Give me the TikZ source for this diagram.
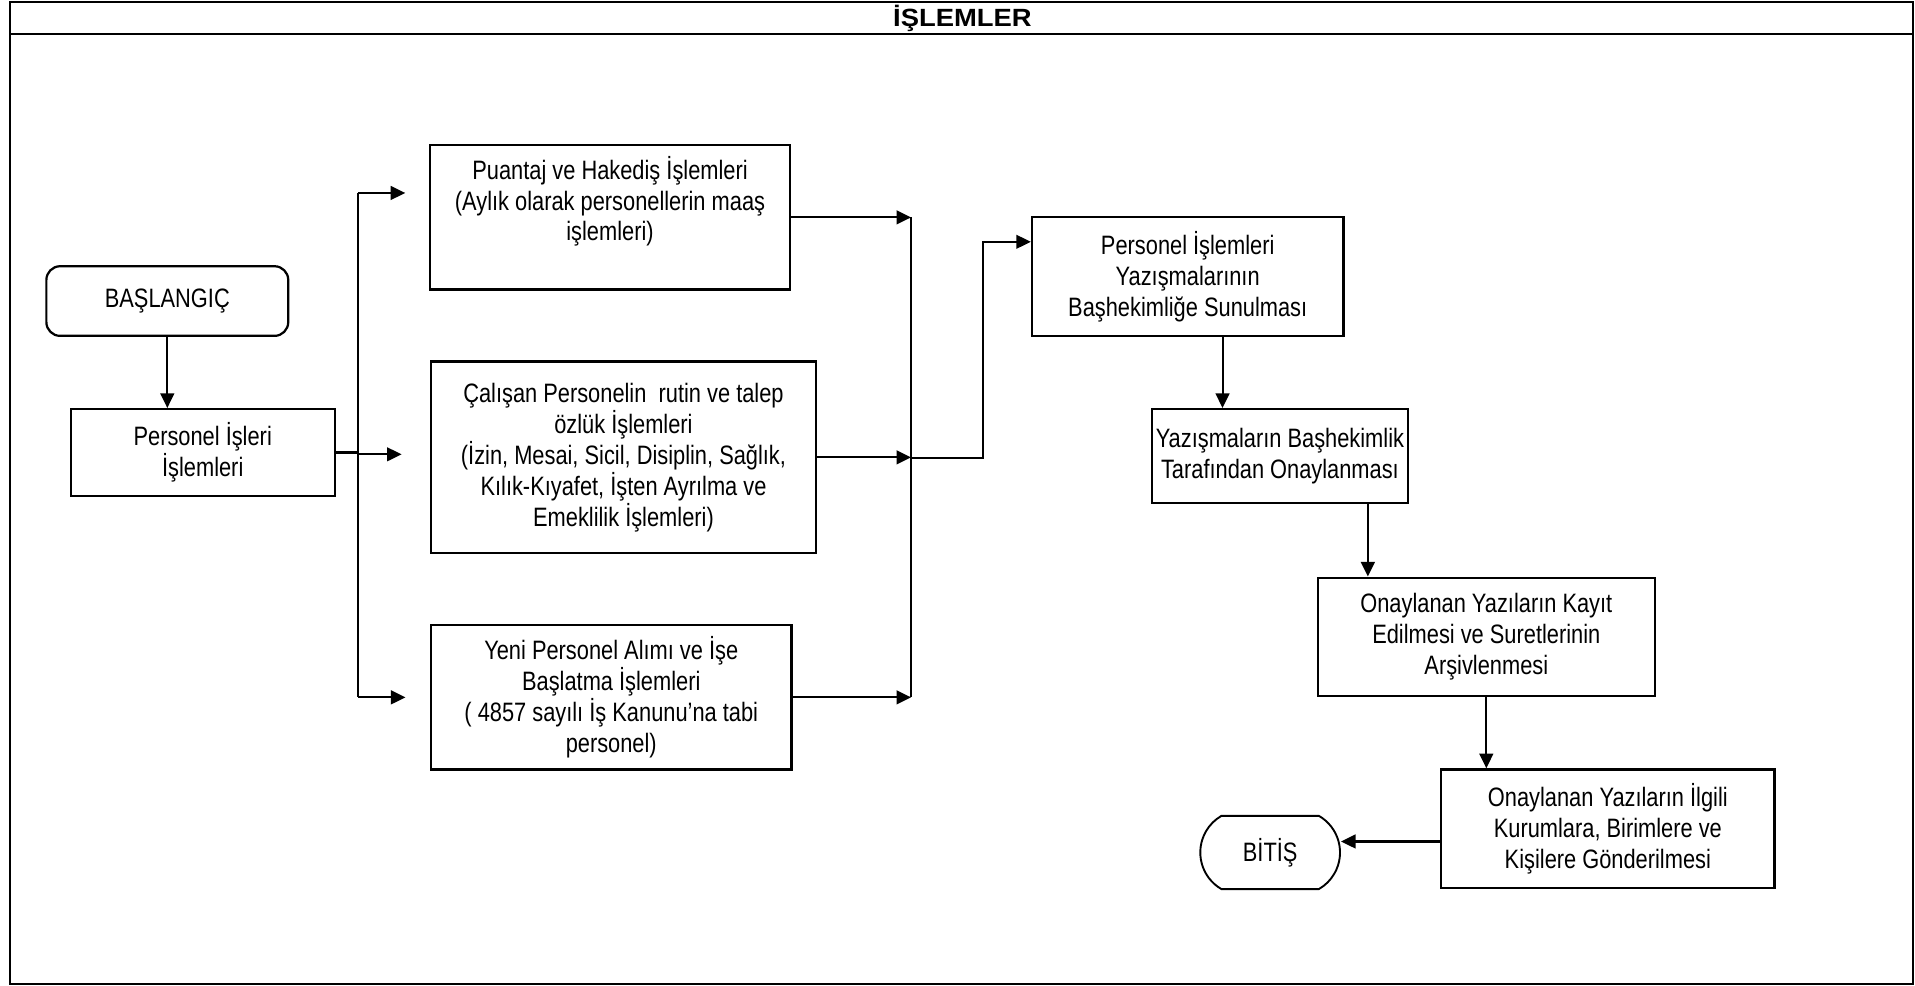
\documentclass[tikz,border=0pt]{standalone}
\usepackage{fontspec}
\setmainfont{Liberation Sans}[FakeStretch=0.82]
\newfontfamily\titlefont{Liberation Sans}[FakeStretch=1.1]
\usetikzlibrary{arrows.meta, shapes.misc, calc}

\begin{document}
\begin{tikzpicture}[x = 0.025cm, y = -0.025cm, > = {Triangle[length=8.5pt, width=8pt]},
    font = \fontsize{15.5}{18}\selectfont,
    box/.style = {draw, line width=1.3pt, align=center, inner sep=2pt},
    flow/.style = {line width=1.2pt}]
  \useasboundingbox (0,0) rectangle (1568,807);
  % frame and title
  \draw[line width=1.2pt] (8,2) rectangle (1566,806);
  \draw[line width=1.2pt] (8,28) -- (1566,28);
  \node[font=\titlefont\fontsize{14.5}{16}\selectfont\bfseries] (title) at (788,15) {İŞLEMLER};

  \node[box, rounded corners=8pt, minimum width=4.95cm, minimum height=1.425cm] (start) at (137,246.5) {BAŞLANGIÇ};
  \node[box, minimum width=5.4cm, minimum height=1.775cm] (pers) at (166,370.5) {Personel İşleri\\İşlemleri};
  \node[box, minimum width=7.375cm, minimum height=2.95cm] (puantaj) at (499.5,178) {Puantaj ve Hakediş İşlemleri\\(Aylık olarak personellerin maaş\\işlemleri)\\[4pt]};
  \node[box, minimum width=7.875cm, minimum height=3.925cm] (calisan) at (510.5,374.5) {Çalışan Personelin\ \ rutin ve talep\\özlük İşlemleri\\(İzin, Mesai, Sicil, Disiplin, Sağlık,\\Kılık-Kıyafet, İşten Ayrılma ve\\Emeklilik İşlemleri)};
  \node[box, minimum width=7.375cm, minimum height=2.95cm] (yeni) at (500.5,571) {Yeni Personel Alımı ve İşe\\Başlatma İşlemleri\\( 4857 sayılı İş Kanunu’na tabi\\personel)};
  \node[box, minimum width=6.375cm, minimum height=2.425cm] (sunul) at (972.5,226.5) {Personel İşlemleri\\Yazışmalarının\\Başhekimliğe Sunulması};
  \node[box, minimum width=5.25cm, minimum height=1.925cm] (onay) at (1048,373.5) {Yazışmaların Başhekimlik\\Tarafından Onaylanması};
  \node[box, minimum width=6.9cm, minimum height=2.425cm] (kayit) at (1217,521.5) {Onaylanan Yazıların Kayıt\\Edilmesi ve Suretlerinin\\Arşivlenmesi};
  \node[box, minimum width=6.825cm, minimum height=2.425cm] (gonder) at (1316.5,678.5) {Onaylanan Yazıların İlgili\\Kurumlara, Birimlere ve\\Kişilere Gönderilmesi};
  \node[box, line width=1.1pt, rounded rectangle, rounded rectangle arc length=120, minimum width=3cm, minimum height=1.5cm] (bitis) at (1040,698) {BİTİŞ};

  % branch and merge points
  \coordinate (split) at (293,372);
  \coordinate (brtop) at (293,158);
  \coordinate (brbot) at (293,571);
  \coordinate (mtop) at (746,178);
  \coordinate (mmid) at (746,375);
  \coordinate (mbot) at (746,571);

  \draw[flow, ->] (start.south) -- (start.south |- pers.north);
  \draw[flow] (pers.east) -- (pers.east -| split);
  \draw[flow] (brtop) -- (brbot);
  \draw[flow, ->, shorten >=0.48cm] (brtop) -- (brtop -| puantaj.west);
  \draw[flow, ->, shorten >=0.58cm] (split) -- (split -| calisan.west);
  \draw[flow, ->, shorten >=0.5cm] (brbot) -- (brbot -| yeni.west);
  \draw[flow, ->] (puantaj.east) -- (mtop);
  \draw[flow, ->] (calisan.east) -- (calisan.east -| mmid);
  \draw[flow, ->] (yeni.east) -- (mbot);
  \draw[flow] (mtop) -- (mbot);
  \draw[flow, ->] (mmid) -| (805,198) -- (sunul.west |- 0,198);
  \draw[flow, ->] (sunul.south -| 1001,0) -- (onay.north -| 1001,0);
  \draw[flow, ->] (onay.south -| 1120,0) -- (kayit.north -| 1120,0);
  \draw[flow, ->] (kayit.south) -- (kayit.south |- gonder.north);
  \draw[flow, ->] (gonder.west |- 0,689) -- (bitis.east |- 0,689);
\end{tikzpicture}
\end{document}
